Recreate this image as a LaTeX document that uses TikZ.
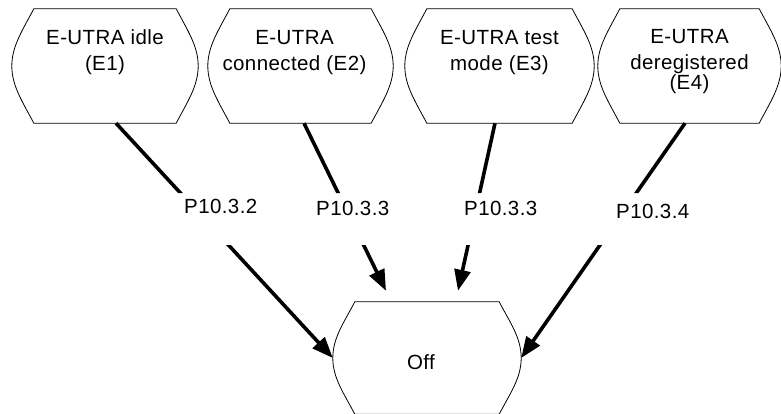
\documentclass[tikz,border=0pt]{standalone}
\usepackage{fontspec}
\setmainfont{Liberation Sans}[LetterSpace=2]
\usetikzlibrary{arrows.meta}
\tikzset{
  statebox/.style={minimum height=114pt, inner sep=0pt, draw=none},
  txt/.style={font=\fontsize{20.5}{26}\selectfont, inner sep=0pt, align=center},
  lbl/.style={font=\fontsize{20.5}{26}\selectfont, inner sep=0pt, anchor=base west},
  conn/.style={line width=3.6pt, -{Triangle[length=21pt,width=16pt]}},
  outline/.style={draw=black, line width=0.8pt, line join=round}
}
\newcommand\stateoutline[1]{%
  \draw[outline] ([xshift=22pt]#1.north west) -- ([xshift=-22pt]#1.north east)
    .. controls ([xshift=-11pt,yshift=-21pt]#1.north east) and ([yshift=20pt]#1.east) .. (#1.east)
    .. controls ([yshift=-20pt]#1.east) and ([xshift=-11pt,yshift=21pt]#1.south east) .. ([xshift=-22pt]#1.south east)
    -- ([xshift=22pt]#1.south west)
    .. controls ([xshift=11pt,yshift=21pt]#1.south west) and ([yshift=-20pt]#1.west) .. (#1.west)
    .. controls ([yshift=20pt]#1.west) and ([xshift=11pt,yshift=-21pt]#1.north west) .. cycle;}
\begin{document}
\begin{tikzpicture}[x=1pt,y=-1pt]
\useasboundingbox (0,0) rectangle (781,414);
% state boxes
\node[statebox, minimum width=186pt] (e1) at (105,66) {};
\node[statebox, minimum width=185pt] (e2) at (300.5,66) {};
\node[statebox, minimum width=189pt] (e3) at (499.5,66) {};
\node[statebox, minimum width=183pt] (e4) at (689.5,66) {};
\node[statebox, minimum width=188pt, minimum height=112pt] (off) at (427,358) {};
\foreach \n in {e1,e2,e3,e4,off} {\stateoutline{\n}}
% texts
\node[txt, anchor=north] (t1) at ([yshift=-21pt]e1.north) {E-UTRA idle\\(E1)};
\node[txt, anchor=north] (t2) at ([xshift=-6pt,yshift=-21pt]e2.north) {E-UTRA\\connected (E2)};
\node[txt, anchor=north] (t3) at ([yshift=-21pt]e3.north) {E-UTRA test\\mode (E3)};
\node[txt, anchor=north] (t4) at ([yshift=-20pt]e4.north) {E-UTRA\\deregistered\\[-6pt](E4)};
\node[txt] (toff) at ([xshift=-6pt,yshift=-4pt]off.center) {Off};
% connector labels
\node[lbl] (l1) at (184,213) {P10.3.2};
\node[lbl] (l2) at (316,215) {P10.3.3};
\node[lbl] (l3) at (464,215) {P10.3.3};
\node[lbl] (l4) at (616,218) {P10.3.4};
% connectors, interrupted where the labels sit
\begin{scope}
  \clip (0,0) rectangle (781,193) (0,245) rectangle (781,414);
  \draw[conn] ([xshift=11pt]e1.south) -- (off.west);
  \draw[conn] ([xshift=3.5pt]e2.south) -- ([xshift=-41pt,yshift=11pt]off.north);
  \draw[conn] ([xshift=-4.5pt]e3.south) -- ([xshift=31pt,yshift=11pt]off.north);
  \draw[conn] ([xshift=-4.5pt]e4.south) -- (off.east);
\end{scope}
\end{tikzpicture}
\end{document}
